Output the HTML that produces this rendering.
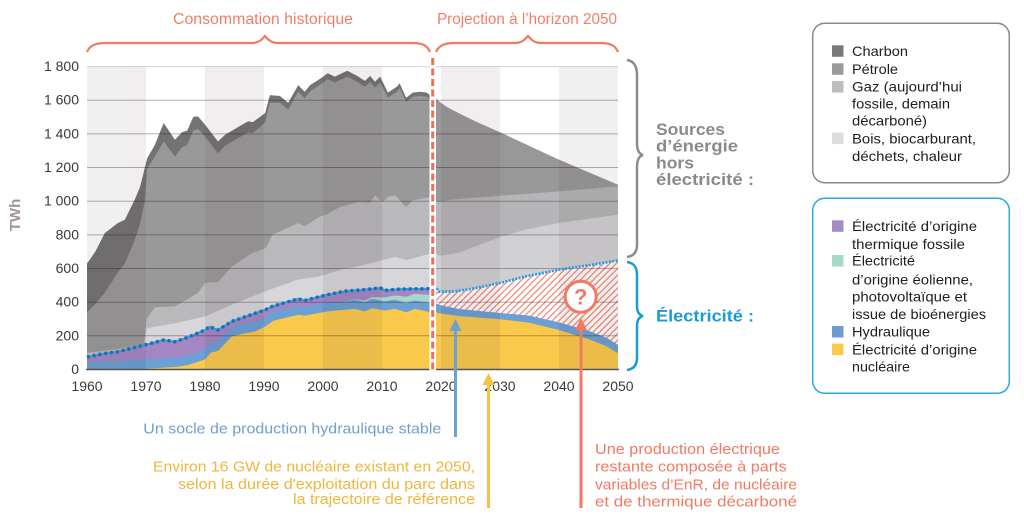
<!DOCTYPE html>
<html><head><meta charset="utf-8">
<style>
html,body{margin:0;padding:0;background:#fff;}
body{width:1024px;height:514px;overflow:hidden;}
svg{display:block;font-family:"Liberation Sans",Arial,sans-serif;}
.grid{mix-blend-mode:multiply;}
</style></head>
<body>
<svg width="1024" height="514" viewBox="0 0 1024 514" xmlns="http://www.w3.org/2000/svg">
<defs>
  <pattern id="hatch" patternUnits="userSpaceOnUse" width="4.6" height="4.6" patternTransform="rotate(45)">
    <rect width="4.6" height="4.6" fill="#fff"/>
    <line x1="1" y1="0" x2="1" y2="4.6" stroke="#f2887a" stroke-width="1.3"/>
  </pattern>
  <clipPath id="hc">
    <path transform="matrix(5.9 0 0 -0.1683 -11477 369.5)" d="M2019.1,0 L2019.1,483 L2019.6,463 L2022,463 L2025.8,483 L2030.3,517 L2034.2,552 L2039.8,592 L2045.5,622 L2050,648 L2050,0 Z"/>
  </clipPath>
</defs>
<rect width="1024" height="514" fill="#fff"/>

<!-- DATA -->
<g transform="matrix(5.9 0 0 -0.1683 -11477 369.5)">
  <!-- Charbon (total) -->
  <path fill="#747374" d="M1960,0 L1960,630 L1961.4,700 L1963,810 L1965.2,870 L1966.4,890 L1968.1,1010 L1969,1085 L1970.2,1255 L1971.5,1335 L1973,1465 L1974.9,1365 L1976.1,1410 L1977,1420 L1978,1500 L1978.8,1505 L1980,1455 L1982.2,1355 L1983.4,1395 L1985.6,1440 L1987.3,1475 L1988.1,1470 L1989.3,1500 L1990.2,1525 L1991,1630 L1992.7,1625 L1994.1,1585 L1995.8,1690 L1996.9,1650 L1997.8,1690 L1999.2,1720 L2000.8,1760 L2002,1740 L2004.1,1775 L2005.8,1745 L2007.1,1715 L2008,1745 L2008.8,1710 L2009.7,1740 L2011,1645 L2012.5,1680 L2013,1700 L2014.1,1615 L2015.2,1645 L2016.4,1650 L2017.6,1645 L2018.3,1625 L2018.3,0 Z"/>
  <!-- Pétrole -->
  <path fill="#9a999a" d="M1960,0 L1960,340 L1961.4,390 L1963,455 L1965.2,575 L1966.4,630 L1968.1,770 L1969,870 L1969.8,1000 L1970.2,1195 L1971.5,1265 L1973,1355 L1974.9,1265 L1976.1,1320 L1977,1335 L1978,1420 L1978.8,1430 L1980,1385 L1982.2,1285 L1983.4,1330 L1985.6,1375 L1987.3,1410 L1988.1,1405 L1989.3,1440 L1990.2,1470 L1991,1585 L1992.7,1585 L1994.1,1545 L1995.8,1650 L1996.9,1612 L1997.8,1652 L1999.2,1685 L2000.8,1725 L2002,1705 L2004.1,1740 L2005.8,1710 L2007.1,1680 L2008,1710 L2008.8,1675 L2009.7,1705 L2011,1615 L2012.5,1650 L2013,1670 L2014.1,1590 L2015.2,1620 L2016.4,1625 L2017.6,1620 L2018.3,1600 L2018.3,0 Z"/>
  <!-- Gaz -->
  <path fill="#b9b8ba" d="M1960,0 L1960,100 L1965,120 L1969.7,150 L1970.1,300 L1971.5,370 L1974.9,375 L1976.9,415 L1978.8,455 L1980,515 L1982.2,520 L1984.5,610 L1986.2,650 L1987.9,690 L1990.2,720 L1990.6,740 L1991.4,800 L1995.8,870 L1996.9,850 L1999.2,905 L2000.8,925 L2002.8,965 L2006.1,995 L2008,990 L2008.8,1035 L2010.1,995 L2011,1025 L2012.2,1035 L2014.1,965 L2015.2,1005 L2018.3,1025 L2018.3,0 Z"/>
  <!-- Bois -->
  <path fill="#d7d6d8" d="M1960,0 L1960,88 L1965,110 L1969.7,140 L1970.1,245 L1974.9,275 L1980,315 L1984.5,385 L1990.2,465 L1991.4,480 L1995.8,535 L1999.2,552 L2002.8,590 L2008,630 L2012.2,670 L2014.1,650 L2018.3,690 L2018.3,0 Z"/>
  <!-- Electricité thermique (purple) -->
  <path fill="#a487c2" d="M1960,0 L1960,75 L1963,95 L1965.2,105 L1970.2,150 L1973,175 L1974.9,165 L1977,190 L1980,235 L1980.8,255 L1982.2,235 L1984.5,285 L1990.2,355 L1991.4,375 L1995.8,420 L1996.9,410 L2000.8,445 L2003.7,465 L2007.1,475 L2009.7,485 L2010.5,470 L2013,478 L2018.3,480 L2018.3,0 Z"/>
  <!-- EnR (teal) -->
  <path fill="#a5d8c9" d="M2003.5,0 L2003.5,405 L2005.4,418 L2007.1,410 L2008.3,430 L2010.5,428 L2012.2,440 L2014.1,432 L2015.6,450 L2018.3,442 L2018.3,0 Z"/>
  <!-- Hydraulique -->
  <path fill="#6c9fd4" d="M1960,0 L1960,45 L1965,50 L1968,55 L1970,62 L1975,70 L1977,85 L1978.8,100 L1980,125 L1981,160 L1982.2,170 L1984.5,250 L1986.7,275 L1988.4,285 L1990.2,305 L1991.6,345 L1995.8,375 L1996.9,372 L2000.8,400 L2003.7,405 L2005.4,415 L2007.1,400 L2008.3,420 L2010.5,405 L2012.2,415 L2014.1,395 L2015.6,410 L2018.3,395 L2018.3,0 Z"/>
  <!-- Nucléaire -->
  <path fill="#f9c94c" d="M1960,0 L1968,0 L1970,5 L1975,15 L1977,25 L1978.8,45 L1980,60 L1981,100 L1982.2,110 L1984.5,195 L1986.7,215 L1988.4,225 L1990.2,255 L1991.6,290 L1995.8,325 L1996.9,320 L2000.8,345 L2003.7,355 L2005.4,360 L2007.1,345 L2008.3,365 L2010.5,350 L2012.2,360 L2014.1,340 L2015.6,360 L2018.3,340 L2018.3,0 Z"/>

  <!-- Projection -->
  <path fill="#999899" d="M2019.1,0 L2019.1,1610 L2019.8,1590 L2021,1560 L2022.9,1525 L2025.8,1475 L2030.3,1405 L2039.8,1250 L2050,1098 L2050,0 Z"/>
  <path fill="#b5b4b6" d="M2019.1,0 L2019.1,1008 L2019.6,1000 L2022.9,1013 L2030.3,1033 L2039.8,1058 L2050,1088 L2050,0 Z"/>
  <path fill="#d0cfd1" d="M2019.1,0 L2019.1,692 L2019.6,675 L2022.9,692 L2025.8,731 L2030.3,790 L2034.2,830 L2039.8,870 L2050,920 L2050,0 Z"/>
</g>

<!-- hatch region -->
<rect x="430" y="240" width="192" height="132" fill="url(#hatch)" clip-path="url(#hc)"/>

<g transform="matrix(5.9 0 0 -0.1683 -11477 369.5)">
  <path fill="#6c9fd4" d="M2019.1,0 L2019.1,394 L2019.6,385 L2022.9,360 L2030.3,335 L2035,320 L2040,280 L2045,230 L2048,190 L2050,146 L2050,0 Z"/>
  <path fill="#f9c94c" d="M2019.1,0 L2019.1,344 L2019.6,335 L2022.9,318 L2030.3,298 L2035,278 L2040,235 L2045,180 L2048,140 L2050,96 L2050,0 Z"/>
</g>

<!-- decade shading -->
<g fill="#2a1a25" opacity="0.065">
  <rect x="87" y="66.6" width="59" height="302.9"/>
  <rect x="205" y="66.6" width="59" height="302.9"/>
  <rect x="323" y="66.6" width="59" height="302.9"/>
  <rect x="441" y="66.6" width="59" height="302.9"/>
  <rect x="559" y="66.6" width="59" height="302.9"/>
</g>

<!-- grid -->
<g class="grid" stroke="#bfaeb7" stroke-width="1">
  <line x1="87" x2="618" y1="335.8" y2="335.8"/>
  <line x1="87" x2="618" y1="302.2" y2="302.2"/>
  <line x1="87" x2="618" y1="268.5" y2="268.5"/>
  <line x1="87" x2="618" y1="234.9" y2="234.9"/>
  <line x1="87" x2="618" y1="201.2" y2="201.2"/>
  <line x1="87" x2="618" y1="167.5" y2="167.5"/>
  <line x1="87" x2="618" y1="133.9" y2="133.9"/>
  <line x1="87" x2="618" y1="100.2" y2="100.2"/>
  <line x1="87" x2="618" y1="66.6" y2="66.6" stroke="#dcd0d6"/>
</g>

<!-- electricity total line (historical) -->
<polyline fill="none" stroke="#3399d6" stroke-width="2" points="87,356.9 104.7,353.5 117.7,351.8 147.2,344.3 163.7,340 174.9,341.7 187.3,337.5 205,330 209.7,326.6 218,330 231.6,321.5 265.2,309.8 272.3,306.4 298.2,298.8 304.7,300.5 327.7,294.6 344.8,291.2 364.9,289.6 380.2,287.9 385,290.4 399.7,289.1 431,288.7"/>
<polyline fill="none" stroke="#1a6cae" stroke-width="3.4" stroke-dasharray="2.6 3.3" points="87,356.9 104.7,353.5 117.7,351.8 147.2,344.3 163.7,340 174.9,341.7 187.3,337.5 205,330 209.7,326.6 218,330 231.6,321.5 265.2,309.8 272.3,306.4 298.2,298.8 304.7,300.5 327.7,294.6 344.8,291.2 364.9,289.6 380.2,287.9 385,290.4 399.7,289.1 431,288.7"/>
<!-- projection line -->
<polyline fill="none" stroke="#1e9ee0" stroke-width="2.6" stroke-dasharray="2 1.4" points="436.9,288.2 438.9,291.6 453,291.6 475.4,288.2 502,282.5 525,276.6 558,269.9 591.7,264.8 618,260.4"/>

<!-- x axis -->
<line x1="86" y1="369.5" x2="619" y2="369.5" stroke="#555" stroke-width="1.6"/>

<!-- dashed separator -->
<rect x="429.5" y="57" width="6.5" height="314" fill="#fff"/>
<line x1="432.7" y1="58" x2="432.7" y2="372" stroke="#ef6f58" stroke-width="3" stroke-dasharray="7 3.5"/>

<!-- y labels -->
<g font-size="14" fill="#3a3a3a" text-anchor="end">
  <text x="79" y="71.1">1 800</text>
  <text x="79" y="104.7">1 600</text>
  <text x="79" y="138.4">1 400</text>
  <text x="79" y="172">1 200</text>
  <text x="79" y="205.7">1 000</text>
  <text x="79" y="239.4">800</text>
  <text x="79" y="273">600</text>
  <text x="79" y="306.7">400</text>
  <text x="79" y="340.3">200</text>
  <text x="79" y="374">0</text>
</g>
<text transform="translate(20,215) rotate(-90)" font-size="15" font-weight="bold" fill="#a29394" text-anchor="middle">TWh</text>

<!-- x labels -->
<g font-size="14" fill="#3a3a3a" text-anchor="middle">
  <text x="87" y="391">1960</text>
  <text x="146" y="391">1970</text>
  <text x="205" y="391">1980</text>
  <text x="264" y="391">1990</text>
  <text x="323" y="391">2000</text>
  <text x="382" y="391">2010</text>
  <text x="441" y="391">2020</text>
  <text x="500" y="391">2030</text>
  <text x="559" y="391">2040</text>
  <text x="618" y="391">2050</text>
</g>

<!-- header -->
<text x="173" y="24" font-size="16" fill="#f07f68" textLength="180" lengthAdjust="spacingAndGlyphs">Consommation historique</text>
<text x="437" y="24" font-size="16" fill="#f07f68" textLength="180" lengthAdjust="spacingAndGlyphs">Projection à l’horizon 2050</text>
<g fill="none" stroke="#f07a62" stroke-width="2.2">
  <path d="M87,52 C90,45 96,43 106,43 L252,43 C258,43 262,40 265,36 C268,40 272,43 278,43 L412,43 C422,43 427,45 430,52"/>
  <path d="M436,52 C439,45 445,43 455,43 L515,43 C521,43 525,40 528,36 C531,40 535,43 541,43 L600,43 C610,43 615,45 618,52"/>
</g>

<!-- right braces -->
<path fill="none" stroke="#8c8c8c" stroke-width="2.5" d="M627,60 C634,61 637,66 637,75 L637,143 C637,150 639,154 643,155 C639,156 637,160 637,167 L637,245 C637,252 634,256 627,257"/>
<path fill="none" stroke="#1b9ad8" stroke-width="2.5" d="M627,262 C634,263 637,267 637,275 L637,306 C637,312 639,315 643,316 C639,317 637,320 637,326 L637,358 C637,365 634,369 627,370"/>

<g font-size="17" font-weight="bold" fill="#8a8a8a">
  <text x="656" y="135" textLength="69" lengthAdjust="spacingAndGlyphs">Sources</text>
  <text x="656" y="151.7" textLength="82" lengthAdjust="spacingAndGlyphs">d’énergie</text>
  <text x="656" y="168.3" textLength="38" lengthAdjust="spacingAndGlyphs">hors</text>
  <text x="656" y="185" textLength="98" lengthAdjust="spacingAndGlyphs">électricité :</text>
</g>
<text x="656" y="321.7" font-size="17" font-weight="bold" fill="#1b9ad8" textLength="98" lengthAdjust="spacingAndGlyphs">Électricité :</text>

<!-- question mark -->
<circle cx="580.7" cy="296.7" r="15.5" fill="#fff" stroke="#f07a62" stroke-width="3"/>
<text x="580.7" y="304.5" font-size="22" font-weight="bold" fill="#f07a62" text-anchor="middle">?</text>

<!-- arrows -->
<line x1="455.5" y1="328" x2="455.5" y2="437" stroke="#6fa0d2" stroke-width="3"/>
<polygon points="455.5,319 449.5,331 461.5,331" fill="#6fa0d2"/>
<line x1="488.5" y1="382" x2="488.5" y2="508" stroke="#f5c242" stroke-width="3"/>
<polygon points="488.5,373 482.5,385 494.5,385" fill="#f5c242"/>
<line x1="581" y1="327" x2="581" y2="508" stroke="#f07a62" stroke-width="3"/>
<polygon points="581,318 575,330 587,330" fill="#f07a62"/>

<!-- bottom annotations -->
<text x="143.3" y="433.3" font-size="14.5" fill="#6fa0d2" textLength="298" lengthAdjust="spacingAndGlyphs">Un socle de production hydraulique stable</text>
<g font-size="14.5" fill="#efb53e">
  <text x="153" y="471.7" textLength="322" lengthAdjust="spacingAndGlyphs">Environ 16 GW de nucléaire existant en 2050,</text>
  <text x="178" y="489" textLength="297" lengthAdjust="spacingAndGlyphs">selon la durée d'exploitation du parc dans</text>
  <text x="293" y="504" textLength="182" lengthAdjust="spacingAndGlyphs">la trajectoire de référence</text>
</g>
<g font-size="14.5" fill="#f07a62">
  <text x="595" y="454" textLength="185" lengthAdjust="spacingAndGlyphs">Une production électrique</text>
  <text x="595" y="471.7" textLength="191.7" lengthAdjust="spacingAndGlyphs">restante composée à parts</text>
  <text x="595" y="489.3" textLength="202" lengthAdjust="spacingAndGlyphs">variables d’EnR, de nucléaire</text>
  <text x="595" y="506.7" textLength="202" lengthAdjust="spacingAndGlyphs">et de thermique décarboné</text>
</g>

<!-- legend box 1 -->
<rect x="812.7" y="23.3" width="196.6" height="159.4" rx="12" ry="12" fill="#fff" stroke="#8a8a8a" stroke-width="1.5"/>
<rect x="832" y="45.3" width="11.5" height="11.5" fill="#7a797a"/>
<rect x="832" y="63.3" width="11.5" height="11.5" fill="#9c9b9c"/>
<rect x="832" y="81" width="11.5" height="11.5" fill="#bdbcbe"/>
<rect x="832" y="132.6" width="11.5" height="11.5" fill="#dcdbdd"/>
<g font-size="14" fill="#1e1e1e">
  <text x="852" y="56" textLength="56" lengthAdjust="spacingAndGlyphs">Charbon</text>
  <text x="852" y="74" textLength="46" lengthAdjust="spacingAndGlyphs">Pétrole</text>
  <text x="852" y="91.7" textLength="110" lengthAdjust="spacingAndGlyphs">Gaz (aujourd’hui</text>
  <text x="852" y="108.3" textLength="98" lengthAdjust="spacingAndGlyphs">fossile, demain</text>
  <text x="852" y="125.7" textLength="75" lengthAdjust="spacingAndGlyphs">décarboné)</text>
  <text x="852" y="143.3" textLength="124" lengthAdjust="spacingAndGlyphs">Bois, biocarburant,</text>
  <text x="852" y="161" textLength="110" lengthAdjust="spacingAndGlyphs">déchets, chaleur</text>
</g>

<!-- legend box 2 -->
<rect x="812.7" y="198.3" width="196.6" height="195" rx="12" ry="12" fill="#fff" stroke="#29aae2" stroke-width="1.5"/>
<rect x="832" y="220.3" width="11.5" height="11.5" fill="#a58bc4"/>
<rect x="832" y="255" width="11.5" height="11.5" fill="#a7d9ca"/>
<rect x="832" y="326" width="11.5" height="11.5" fill="#6c9cd0"/>
<rect x="832" y="343.6" width="11.5" height="11.5" fill="#f9c94c"/>
<g font-size="14" fill="#1e1e1e">
  <text x="852" y="231" textLength="125" lengthAdjust="spacingAndGlyphs">Électricité d’origine</text>
  <text x="852" y="249" textLength="113" lengthAdjust="spacingAndGlyphs">thermique fossile</text>
  <text x="852" y="265.7" textLength="63" lengthAdjust="spacingAndGlyphs">Électricité</text>
  <text x="852" y="284.3" textLength="121" lengthAdjust="spacingAndGlyphs">d’origine éolienne,</text>
  <text x="852" y="301.7" textLength="115" lengthAdjust="spacingAndGlyphs">photovoltaïque et</text>
  <text x="852" y="319" textLength="134" lengthAdjust="spacingAndGlyphs">issue de bioénergies</text>
  <text x="852" y="336.7" textLength="78" lengthAdjust="spacingAndGlyphs">Hydraulique</text>
  <text x="852" y="354.3" textLength="125" lengthAdjust="spacingAndGlyphs">Électricité d’origine</text>
  <text x="852" y="371.7" textLength="58" lengthAdjust="spacingAndGlyphs">nucléaire</text>
</g>
</svg>
</body></html>
